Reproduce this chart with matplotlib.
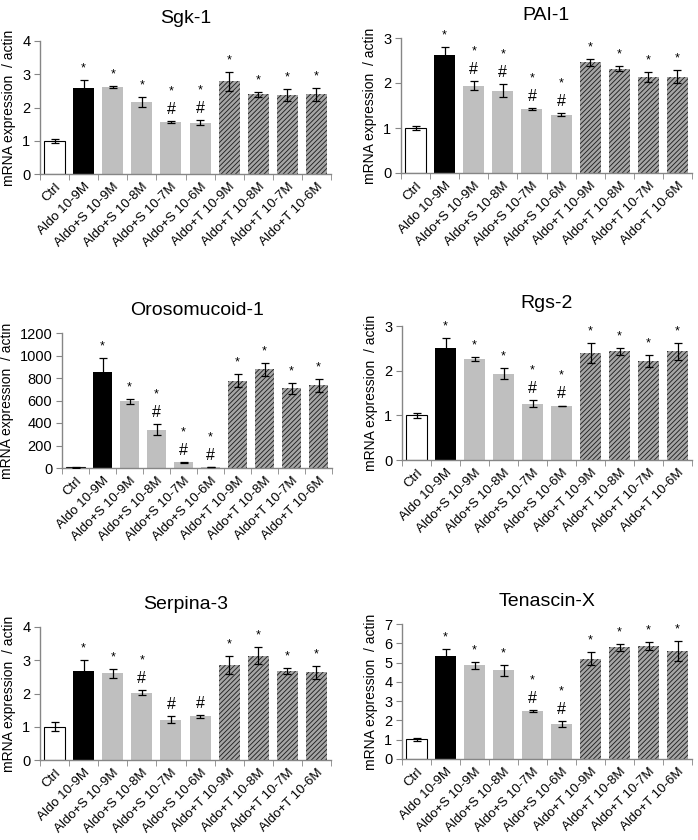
import matplotlib
matplotlib.use("Agg")
import matplotlib.pyplot as plt
import numpy as np

plt.rcParams['font.family'] = ['Liberation Sans', 'DejaVu Sans']
plt.rcParams['hatch.linewidth'] = 0.65

categories = ["Ctrl", "Aldo 10-9M", "Aldo+S 10-9M", "Aldo+S 10-8M", "Aldo+S 10-7M",
              "Aldo+S 10-6M", "Aldo+T 10-9M", "Aldo+T 10-8M", "Aldo+T 10-7M", "Aldo+T 10-6M"]

sgk_mean = [1.0, 2.59, 2.62, 2.16, 1.56, 1.54, 2.79, 2.40, 2.38, 2.40]
sgk_err = [0.06, 0.25, 0.04, 0.15, 0.02, 0.07, 0.29, 0.08, 0.17, 0.20]
sgk_star = [0, 1, 1, 1, 1, 1, 1, 1, 1, 1]
sgk_hash = [0, 0, 0, 0, 1, 1, 0, 0, 0, 0]

pai_mean = [1.0, 2.63, 1.94, 1.83, 1.42, 1.30, 2.46, 2.32, 2.14, 2.14]
pai_err = [0.05, 0.18, 0.10, 0.14, 0.03, 0.03, 0.08, 0.06, 0.11, 0.14]
pai_star = [0, 1, 1, 1, 1, 1, 1, 1, 1, 1]
pai_hash = [0, 0, 1, 1, 1, 1, 0, 0, 0, 0]

oro_mean = [5, 850, 592, 340, 50, 8, 775, 876, 708, 736]
oro_err = [2, 125, 25, 50, 5, 3, 58, 54, 52, 58]
oro_star = [0, 1, 1, 1, 1, 1, 1, 1, 1, 1]
oro_hash = [0, 0, 0, 1, 1, 1, 0, 0, 0, 0]

rgs_mean = [1.0, 2.51, 2.26, 1.93, 1.26, 1.21, 2.39, 2.43, 2.22, 2.43]
rgs_err = [0.05, 0.23, 0.04, 0.12, 0.08, 0.01, 0.22, 0.07, 0.14, 0.20]
rgs_star = [0, 1, 1, 1, 1, 1, 1, 1, 1, 1]
rgs_hash = [0, 0, 0, 0, 1, 1, 0, 0, 0, 0]

ser_mean = [1.0, 2.69, 2.61, 2.03, 1.21, 1.31, 2.87, 3.14, 2.68, 2.64]
ser_err = [0.14, 0.31, 0.14, 0.07, 0.10, 0.05, 0.27, 0.26, 0.08, 0.19]
ser_star = [0, 1, 1, 1, 0, 0, 1, 1, 1, 1]
ser_hash = [0, 0, 0, 1, 1, 1, 0, 0, 0, 0]

ten_mean = [1.02, 5.35, 4.85, 4.59, 2.49, 1.82, 5.20, 5.80, 5.87, 5.60]
ten_err = [0.08, 0.37, 0.17, 0.30, 0.03, 0.14, 0.33, 0.18, 0.22, 0.53]
ten_star = [0, 1, 1, 1, 1, 1, 1, 1, 1, 1]
ten_hash = [0, 0, 0, 0, 1, 1, 0, 0, 0, 0]

panels = [
    ("Sgk-1", sgk_mean, sgk_err, sgk_star, sgk_hash, 4, 1, (40, 41, 331, 174)),
    ("PAI-1", pai_mean, pai_err, pai_star, pai_hash, 3, 1, (401, 38, 692, 173)),
    ("Orosomucoid-1", oro_mean, oro_err, oro_star, oro_hash, 1200, 200, (62, 333, 332, 468)),
    ("Rgs-2", rgs_mean, rgs_err, rgs_star, rgs_hash, 3, 1, (402, 326, 692, 460)),
    ("Serpina-3", ser_mean, ser_err, ser_star, ser_hash, 4, 1, (40, 627, 331, 760)),
    ("Tenascin-X", ten_mean, ten_err, ten_star, ten_hash, 7, 1, (402, 624, 692, 759)),
]

W, H = 698, 840
fig = plt.figure(figsize=(W / 100, H / 100), dpi=100)
spine_c = '#868686'

for title, mean, err, star, hsh, ymax, ystep, (x0, y0, x1, y1) in panels:
    ax = fig.add_axes([x0 / W, 1 - y1 / H, (x1 - x0) / W, (y1 - y0) / H])
    x = np.arange(len(categories))
    for i in range(len(categories)):
        kw = dict(width=0.72, zorder=2)
        if i == 0:
            ax.bar(x[i], mean[i], color='white', edgecolor='black', linewidth=0.8, **kw)
        elif i == 1:
            ax.bar(x[i], mean[i], color='black', linewidth=0, **kw)
        elif i <= 5:
            ax.bar(x[i], mean[i], color='#bfbfbf', linewidth=0, **kw)
        else:
            ax.bar(x[i], mean[i], color='#a6a6a6', edgecolor='#222222', hatch='/' * 7,
                   linewidth=0, **kw)
    ax.errorbar(x, mean, yerr=err, fmt='none', ecolor='black', elinewidth=0.9,
                capsize=2.6, capthick=0.9, zorder=3)
    for i in range(len(categories)):
        top = mean[i] + err[i]
        if hsh[i]:
            ax.annotate('#', (x[i], top), xytext=(0, 3), textcoords='offset points',
                        ha='center', va='bottom', fontsize=11.5)
            if star[i]:
                ax.annotate('*', (x[i], top), xytext=(0, 17), textcoords='offset points',
                            ha='center', va='bottom', fontsize=9)
        elif star[i]:
            ax.annotate('*', (x[i], top), xytext=(0, 4), textcoords='offset points',
                        ha='center', va='bottom', fontsize=9)
    ax.set_xlim(-0.5, len(categories) - 0.5)
    ax.set_ylim(0, ymax)
    ax.set_yticks(np.arange(0, ymax + ystep / 2, ystep))
    ax.set_xticks(x)
    ax.set_xticklabels(categories, rotation=45, ha='right', rotation_mode='anchor', fontsize=9.5)
    ax.set_xticks(np.arange(-0.5, len(categories)), minor=True)
    ax.tick_params(axis='x', which='major', length=0, pad=5)
    ax.tick_params(axis='x', which='minor', length=4, color=spine_c, direction='out')
    ax.tick_params(axis='y', length=4, color=spine_c, labelsize=10.5, pad=3)
    for s in ('top', 'right'):
        ax.spines[s].set_visible(False)
    for s in ('left', 'bottom'):
        ax.spines[s].set_color(spine_c)
        ax.spines[s].set_linewidth(1.0)
    ax.set_ylabel('mRNA expression  / actin', fontsize=10)
    ax.set_title(title, fontsize=14, pad=13)

fig.savefig('out.png', dpi=100)
